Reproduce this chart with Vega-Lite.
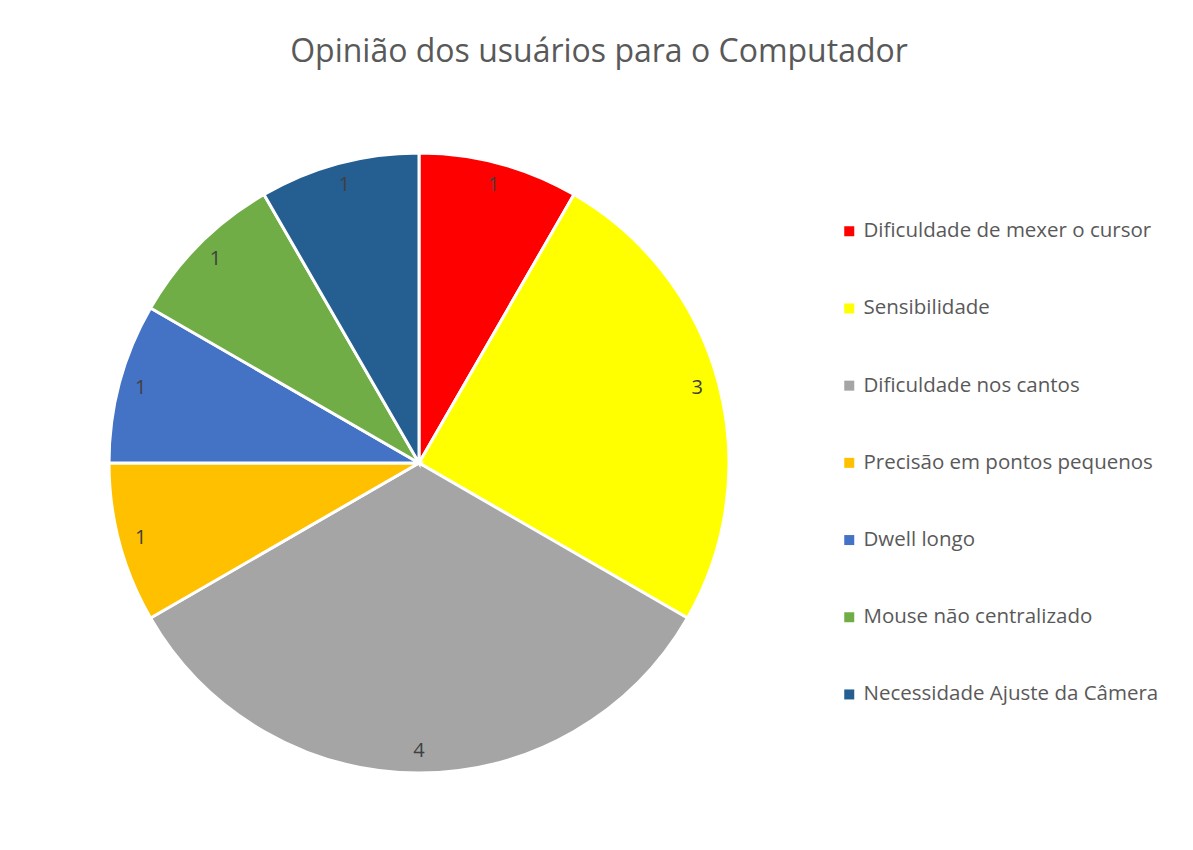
{
  "$schema": "https://vega.github.io/schema/vega-lite/v6.json",
  "autosize": "none",
  "width": 620,
  "height": 620,
  "padding": {"left": 109, "top": 153, "right": 464, "bottom": 77},
  "background": "white",
  "title": {
    "text": "Opinião dos usuários para o Computador",
    "font": "Open Sans",
    "fontSize": 32,
    "fontWeight": "normal",
    "color": "#595959",
    "anchor": "middle",
    "dx": 180,
    "offset": 78,
    "limit": 1000
  },
  "config": {"view": {"stroke": null}},
  "data": {
    "values": [
      {"idx": 1, "categoria": "Dificuldade de mexer o cursor", "valor": 1},
      {"idx": 2, "categoria": "Sensibilidade", "valor": 3},
      {"idx": 3, "categoria": "Dificuldade nos cantos", "valor": 4},
      {"idx": 4, "categoria": "Precisão em pontos pequenos", "valor": 1},
      {"idx": 5, "categoria": "Dwell longo", "valor": 1},
      {"idx": 6, "categoria": "Mouse não centralizado", "valor": 1},
      {"idx": 7, "categoria": "Necessidade Ajuste da Câmera", "valor": 1}
    ]
  },
  "encoding": {
    "theta": {"field": "valor", "type": "quantitative", "stack": true},
    "order": {"field": "idx", "type": "quantitative"}
  },
  "layer": [
    {
      "mark": {"type": "arc", "outerRadius": 310, "stroke": "white", "strokeWidth": 3},
      "encoding": {
        "color": {
          "field": "categoria",
          "type": "nominal",
          "sort": null,
          "scale": {
            "domain": ["Dificuldade de mexer o cursor", "Sensibilidade", "Dificuldade nos cantos", "Precisão em pontos pequenos", "Dwell longo", "Mouse não centralizado", "Necessidade Ajuste da Câmera"],
            "range": ["#FF0000", "#FFFF00", "#A5A5A5", "#FFC000", "#4472C4", "#70AD47", "#255E91"]
          },
          "legend": {
            "title": null,
            "orient": "none",
            "legendX": 730,
            "legendY": 68,
            "symbolType": "square",
            "symbolSize": 100,
            "symbolStrokeWidth": 0,
            "labelFont": "Open Sans",
            "labelFontSize": 20.5,
            "labelColor": "#595959",
            "labelOffset": 4,
            "rowPadding": 56.2,
            "labelLimit": 400
          }
        }
      }
    },
    {
      "mark": {"type": "text", "radius": 288, "font": "Open Sans", "fontSize": 20, "color": "#404040", "baseline": "middle", "align": "center"},
      "encoding": {
        "text": {"field": "valor", "type": "quantitative"}
      }
    }
  ]
}
